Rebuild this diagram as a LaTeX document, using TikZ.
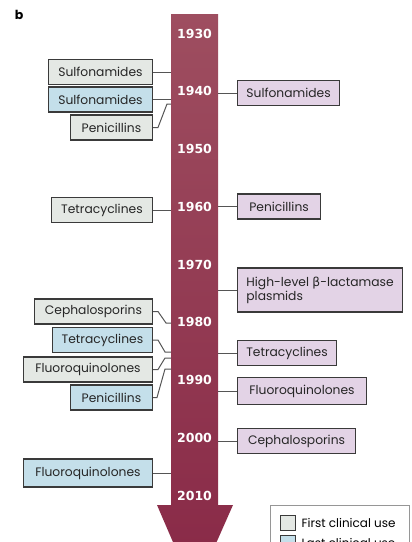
\documentclass[tikz,border=0pt]{standalone}
\usepackage{fontspec}
\setsansfont{Poppins}
\renewcommand{\familydefault}{\sfdefault}
\newfontfamily\yearfont{DejaVu Sans}
\definecolor{arrowtop}{RGB}{158,78,96}
\definecolor{arrowbot}{RGB}{136,40,70}
\definecolor{firstfill}{RGB}{228,232,228}
\definecolor{lastfill}{RGB}{196,223,234}
\definecolor{resfill}{RGB}{227,211,230}
\definecolor{boxline}{RGB}{58,58,58}
\definecolor{linkgrey}{RGB}{85,85,85}
\definecolor{legendline}{RGB}{150,150,150}
\begin{document}
\begin{tikzpicture}[x=1pt,y=-1pt,
    box/.style={draw=boxline,line width=1.1pt,minimum height=25pt,inner sep=2pt,
      text=black!85,font=\fontsize{12.3}{14}\selectfont},
    firstuse/.style={box,fill=firstfill,anchor=east},
    lastuse/.style={box,fill=lastfill,anchor=east},
    resbox/.style={box,fill=resfill,anchor=west},
    yearlab/.style={text=white,font=\yearfont\bfseries\fontsize{12.5}{14}\selectfont},
    keysq/.style={draw=boxline,line width=1pt,minimum size=15pt,inner sep=0pt},
    link/.style={draw=linkgrey,line width=1pt}]
  \useasboundingbox (0,0) rectangle (412,542);
  \clip (0,0) rectangle (412,542);

  \node[font=\bfseries\fontsize{12.5}{14}\selectfont] (panel) at (19,15) {b};

  % time arrow
  \shade[top color=arrowtop,bottom color=arrowbot]
    (171,14) -- (218,14) -- (218,505) -- (233,505) -- (194.5,592)
    -- (157,505) -- (171,505) -- cycle;
  \coordinate (wL) at (171,0);
  \coordinate (wR) at (218,0);

  \foreach \yr [count=\i from 0] in {1930,1940,...,2010}
    \node[yearlab] (y\yr) at (194.5,33.5+57.75*\i) {\yr};

  % left side
  \node[firstuse,minimum width=104pt] (sulfF) at (153,72) {Sulfonamides};
  \node[lastuse,minimum width=104pt] (sulfL) at (153,99.5) {Sulfonamides};
  \node[firstuse,minimum width=82pt] (penF) at (153,127.5) {Penicillins};
  \node[firstuse,minimum width=101pt] (tetF) at (153,210) {Tetracyclines};
  \node[firstuse,minimum width=118pt] (cephF) at (153,311.5) {Cephalosporins};
  \node[lastuse,minimum width=100pt] (tetL) at (153,340) {Tetracyclines};
  \node[firstuse,minimum width=129pt] (fluF) at (153,369.5) {Fluoroquinolones};
  \node[lastuse,minimum width=82pt] (penL) at (153,397.5) {Penicillins};
  \node[lastuse,minimum width=129pt,minimum height=28pt] (fluL) at (153,473) {Fluoroquinolones};

  \coordinate (a1940) at (171,104);
  \coordinate (a1980a) at (171,323);
  \coordinate (a1980b) at (171,352);
  \coordinate (a1990a) at (171,358);
  \coordinate (a1990b) at (171,369);

  \draw[link] (sulfF.east) -- (sulfF.east -| wL);
  \draw[link] (sulfL.east) -- (sulfL.east -| wL);
  \draw[link] (penF.east) -- ++(5,0) -- ([xshift=-4pt]a1940) -- (a1940);
  \draw[link] (tetF.east) -- (tetF.east -| wL);
  \draw[link] (cephF.east) -- ++(5,0) -- ([xshift=-5pt]a1980a) -- (a1980a);
  \draw[link] (tetL.east) -- ++(5,0) -- ([xshift=-6pt]a1980b) -- (a1980b);
  \draw[link] (fluF.east) -- ++(5,0) -- ([xshift=-6pt]a1990a) -- (a1990a);
  \draw[link] (penL.east) -- ++(4,0) -- ([xshift=-6pt]a1990b) -- (a1990b);
  \draw[link] (fluL.east) -- (fluL.east -| wL);

  % right side
  \node[resbox,minimum width=102pt] (sulfR) at (237,93) {Sulfonamides};
  \node[resbox,minimum width=83pt] (penR) at (237,206.5) {Penicillins};
  \node[resbox,minimum width=165pt,minimum height=44pt,align=left,inner xsep=6pt]
    (betaR) at (237,290) {High-level {\yearfont β}-lactamase\\plasmids};
  \node[resbox,minimum width=99pt] (tetR) at (237,353) {Tetracyclines};
  \node[resbox,minimum width=129pt,minimum height=27pt] (fluR) at (237,391) {Fluoroquinolones};
  \node[resbox,minimum width=118pt] (cephR) at (237,441) {Cephalosporins};

  \draw[link] (sulfR.west) -- (sulfR.west -| wR);
  \draw[link] (penR.west) -- (penR.west -| wR);
  \draw[link] (betaR.west) -- (betaR.west -| wR);
  \draw[link] (tetR.west) -- (tetR.west -| wR);
  \draw[link] (fluR.west) -- (fluR.west -| wR);
  \draw[link] (cephR.west) -- (cephR.west -| wR);

  % key
  \draw[legendline,line width=0.7pt,fill=white] (270,505) rectangle (409,580);
  \node[keysq,fill=firstfill] (keyF) at (288,522.5) {};
  \node[anchor=west,font=\fontsize{12}{14}\selectfont] (keyFt) at (298,522.5) {First clinical use};
  \node[keysq,fill=lastfill] (keyL) at (288,543) {};
  \node[anchor=west,font=\fontsize{12}{14}\selectfont] (keyLt) at (298,543) {Last clinical use};
\end{tikzpicture}
\end{document}
